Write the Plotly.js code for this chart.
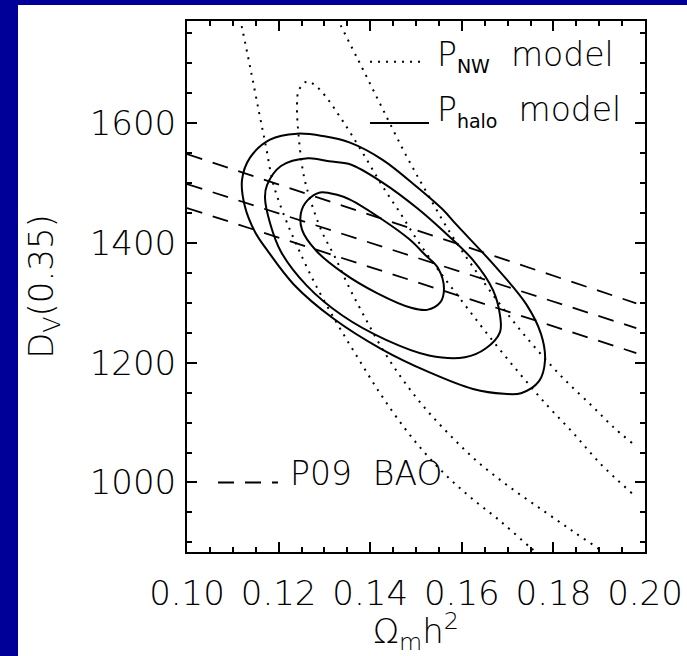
<!DOCTYPE html>
<html><head><meta charset="utf-8">
<script src="https://cdn.plot.ly/plotly-3.0.1.min.js"></script>
<style>html,body{margin:0;padding:0;background:#fff;}#chart{width:687px;height:656px;}</style>
</head><body><div id="chart"></div>
<script>
// ---- P_halo model contours (solid) ----
const haloOuterX = [0.12402,0.12969,0.13559,0.14279,0.15022,0.1559,0.15873,0.16725,0.17402,0.17729,0.17817,0.17686,0.17293,0.16921,0.16245,0.15284,0.14236,0.13188,0.12336,0.11747,0.11485,0.11266,0.11201,0.11376,0.11812,0.12402];
const haloOuterY = [1582,1578,1567,1538,1493,1455,1431,1361,1298,1248,1204,1169,1149,1148,1156,1184,1223,1274,1330,1388,1418,1460,1505,1542,1572,1582];
const haloMidX = [0.12642,0.131,0.13559,0.14279,0.15022,0.1559,0.16245,0.16681,0.16834,0.16834,0.16528,0.1607,0.15284,0.14345,0.13384,0.1262,0.12052,0.11812,0.11703,0.11747,0.12052,0.12642];
const haloMidY = [1541,1536,1531,1500,1458,1420,1371,1321,1279,1251,1224,1209,1212,1238,1279,1328,1385,1433,1475,1496,1528,1541];
const haloInnerX = [0.12904,0.13275,0.13559,0.14279,0.14869,0.15197,0.1548,0.15611,0.15524,0.1524,0.14913,0.14148,0.13384,0.12817,0.12511,0.12489,0.1262,0.12904];
const haloInnerY = [1484,1480,1472,1438,1405,1380,1358,1323,1300,1288,1291,1316,1351,1387,1422,1450,1470,1484];

// ---- P_NW model contours (dotted) ----
const nwOuterLowX = [0.11157,0.11376,0.11572,0.11725,0.11878,0.12118,0.12402,0.12773,0.1321,0.1369,0.14214,0.14738,0.15197,0.15655,0.16179,0.16834,0.17489,0.17729];
const nwOuterLowY = [1775,1694,1618,1560,1500,1446,1395,1335,1274,1213,1149,1092,1049,1012,976,936,892,877];
const nwInnerX = [0.19105,0.19017,0.18472,0.17817,0.17052,0.16354,0.15742,0.15197,0.14716,0.1428,0.13886,0.13537,0.13231,0.12948,0.12729,0.12555,0.12445,0.12402,0.12445,0.1262,0.12838,0.13079,0.13341,0.13603,0.1393,0.1428,0.14651,0.15022,0.15524,0.1607,0.16659,0.17271,0.1786,0.18428,0.19017,0.19716];
const nwInnerY = [879,887,916,951,992,1034,1079,1124,1171,1221,1275,1326,1376,1418,1463,1510,1572,1630,1655,1669,1660,1639,1610,1579,1538,1493,1450,1405,1351,1296,1238,1181,1129,1083,1032,982];
const nwOuterUpX = [0.13275,0.13624,0.13843,0.1428,0.14803,0.1524,0.15742,0.16288,0.16878,0.17511,0.18188,0.18865,0.19301,0.19716];
const nwOuterUpY = [1775,1722,1689,1622,1543,1483,1417,1355,1293,1233,1176,1126,1093,1066];

// ---- P09 BAO constraints (dashed) ----
const baoX = [0.10, 0.1981];
const baoTopY = [1548, 1299];
const baoMidY = [1498, 1257.5];
const baoLowY = [1458, 1216];

// ---- legend samples and labels ----
const legNWX = [0.13996, 0.15197], legNWY = [1702, 1702];
const legHaloX = [0.13996, 0.15284], legHaloY = [1600, 1600];
const legBAOX = [0.10677, 0.11987], legBAOY = [1000, 1000];
const legendLabels = [
  'P<sub><span style="font-size:19px;font-weight:400">NW</span></sub>\u00a0 model',
  'P<sub><span style="font-size:19px;font-weight:400">halo</span></sub>\u00a0 model',
  'P09\u00a0\u00a0BAO'
];
const legendLabelX = [0.15415, 0.15415, 0.12205];
const legendLabelY = [1712, 1620, 1015];

const xTitle = '\u03a9<sub>m</sub>h<sup>2</sup>';
const yTitle = 'D<sub>V</sub>(0.35)';

const FONT = 'DejaVu Sans';
const FW = 200;
const FS = 34;
const DOT = '2px,6px', DASH = '16px,11px';
const traces = [];
function line(x, y, dash, width, smooth) {
  traces.push({type:'scatter', mode:'lines', x:x, y:y, hoverinfo:'skip', showlegend:false,
    line:{color:'#000', width:width, dash:dash, shape: smooth ? 'spline' : 'linear'}});
}
line(haloOuterX, haloOuterY, 'solid', 2, true);
line(haloMidX, haloMidY, 'solid', 2, true);
line(haloInnerX, haloInnerY, 'solid', 2, true);
line(nwOuterLowX, nwOuterLowY, DOT, 2, true);
line(nwInnerX, nwInnerY, DOT, 2, true);
line(nwOuterUpX, nwOuterUpY, DOT, 2, true);
line(baoX, baoTopY, DASH, 1.8, false);
line(baoX, baoMidY, DASH, 1.8, false);
line(baoX, baoLowY, DASH, 1.8, false);
line(legNWX, legNWY, DOT, 2, false);
line(legHaloX, legHaloY, 'solid', 2, false);
line(legBAOX, legBAOY, DASH, 1.8, false);

const W = 687, H = 656, L = 187, R = 42, T = 21, B = 104;
const pw = W - L - R, ph = H - T - B;
const px = v => (v - L) / pw, py = v => (H - B - v) / ph;
const BLUE = '#000099';
const tf = {family:FONT, size:FS, color:'#000', weight:FW};
const lf = {family:FONT, size:33, color:'#000', weight:FW};

const annotations = legendLabels.map((t, i) => ({
  text: t, x: legendLabelX[i], y: legendLabelY[i], xref:'x', yref:'y',
  xanchor:'left', yanchor:'middle', showarrow:false, font:lf
}));

const axisCommon = {
  ticks:'inside', ticklen:10, tickwidth:2, tickcolor:'#000',
  showline:true, linewidth:2, linecolor:'#000', mirror:'ticks',
  showgrid:false, zeroline:false, automargin:false, tickfont:tf
};

const layout = {
  width:W, height:H, margin:{l:L, r:R, t:T, b:B, pad:0},
  paper_bgcolor:'#fff', plot_bgcolor:'#fff', showlegend:false,
  font:tf,
  xaxis: Object.assign({}, axisCommon, {
    range:[0.10, 0.20], tick0:0.10, dtick:0.02, tickformat:'.2f',
    minor:{dtick:0.005, ticks:'inside', ticklen:5, tickwidth:2, tickcolor:'#000', showgrid:false},
    ticklabelstandoff: 10,
    title:{text:xTitle, standoff:9, font:tf}
  }),
  yaxis: Object.assign({}, axisCommon, {
    range:[884, 1770], tick0:1000, dtick:200,
    minor:{dtick:50, ticks:'inside', ticklen:5, tickwidth:2, tickcolor:'#000', showgrid:false},
    ticklabelstandoff: 2,
    title:{text:yTitle, standoff:26, font:tf}
  }),
  shapes:[
    {type:'rect', xref:'paper', yref:'paper', x0:px(0), x1:px(18), y0:py(H), y1:py(0), fillcolor:BLUE, line:{width:0}, layer:'below'},
    {type:'rect', xref:'paper', yref:'paper', x0:px(0), x1:px(W), y0:py(5), y1:py(0), fillcolor:BLUE, line:{width:0}, layer:'below'}
  ],
  annotations: annotations
};

Plotly.newPlot('chart', traces, layout, {displayModeBar:false, staticPlot:true});
</script></body></html>
